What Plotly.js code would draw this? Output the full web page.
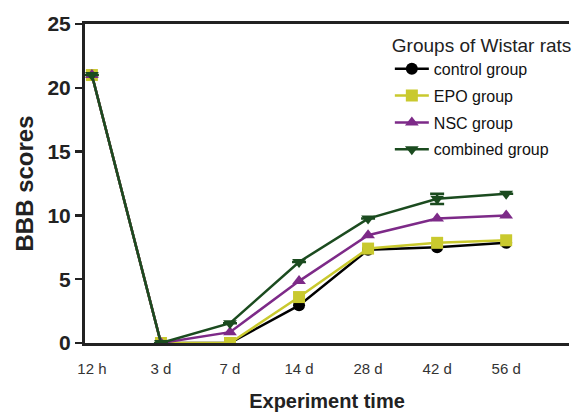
<!DOCTYPE html>
<html><head><meta charset="utf-8">
<script src="https://cdn.plot.ly/plotly-3.0.1.min.js"></script>
<style>html,body{margin:0;padding:0;background:#fff}#chart{width:574px;height:415px}</style>
</head><body><div id="chart"></div>
<script>
const categories = ["12 h", "3 d", "7 d", "14 d", "28 d", "42 d", "56 d"];
const controlGroup = [21, 0, 0, 2.95, 7.3, 7.5, 7.85];
const epoGroup = [21, 0, 0, 3.6, 7.4, 7.85, 8.05];
const nscGroup = [21, 0, 0.85, 4.85, 8.45, 9.75, 10.0];
const combinedGroup = [21, 0, 1.55, 6.35, 9.75, 11.3, 11.7];
const combinedErr = [0, 0, 0, 0, 0, 0.4, 0];
const seriesNames = ["control group", "EPO group", "NSC group", "combined group"];
const yTicks = [0, 5, 10, 15, 20, 25];

const colors = ["#000000", "#c9c92e", "#7d2a88", "#1b4b1f"];
const symbols = ["circle", "square", "triangle-up", "triangle-down"];
const series = [controlGroup, epoGroup, nscGroup, combinedGroup];

const traces = series.map((ys, i) => {
  const t = {
    x: categories, y: ys, name: seriesNames[i], legendgroup: "g" + i,
    type: "scatter", mode: "lines+markers",
    line: {color: colors[i], width: 2.5},
    marker: {color: colors[i], symbol: symbols[i], size: 12, line: {width: 0}}
  };
  if (i === 3) t.error_y = {type: "data", array: combinedErr, visible: true, color: colors[i], thickness: 2.5, width: 7};
  return t;
});

const layout = {
  width: 574, height: 415,
  margin: {l: 85, r: 0, t: 24, b: 72},
  paper_bgcolor: "#fff", plot_bgcolor: "#fff",
  font: {family: "Liberation Sans, Arial, sans-serif", color: "#222"},
  showlegend: true,
  legend: {
    x: 1.01, xanchor: "right", y: 0.99, yanchor: "top",
    bgcolor: "rgba(0,0,0,0)",
    font: {size: 16, color: "#111"},
    title: {text: "Groups of Wistar rats", font: {size: 19, color: "#222"}},
    itemwidth: 34, tracegroupgap: 3
  },
  xaxis: {
    type: "category", categoryarray: categories,
    range: [-0.1, 6.91],
    showline: true, linecolor: "#222", linewidth: 3, mirror: true,
    showgrid: false, zeroline: false, ticks: "",
    ticklabelstandoff: 10,
    tickfont: {size: 15, color: "#333"},
    title: {text: "Experiment time", font: {size: 20, color: "#222", weight: "bold"}, standoff: 18}
  },
  yaxis: {
    range: [0, 25], tickvals: yTicks,
    showline: true, linecolor: "#222", linewidth: 3,
    showgrid: false, zeroline: false,
    ticks: "outside", ticklen: 7, tickwidth: 2.5, tickcolor: "#222",
    tickfont: {size: 21, color: "#222", weight: "bold"},
    title: {text: "BBB scores", font: {size: 24, color: "#222", weight: "bold"}, standoff: 8}
  }
};
Plotly.newPlot("chart", traces, layout, {staticPlot: true, displayModeBar: false});
</script></body></html>
